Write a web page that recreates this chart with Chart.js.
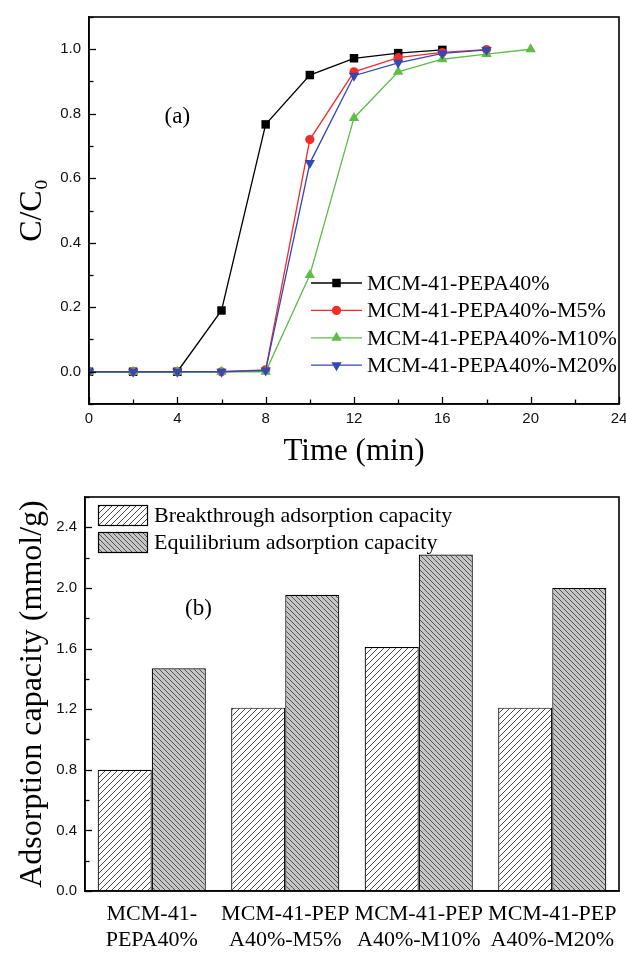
<!DOCTYPE html>
<html><head><meta charset="utf-8">
<script src="https://cdn.jsdelivr.net/npm/chart.js@4.4.1/dist/chart.umd.min.js"></script>
<style>
html,body{margin:0;padding:0;background:#fff;}
#wrap{position:relative;width:626px;height:953px;overflow:hidden;background:#fff;}
#c1{position:absolute;left:0;top:0;}
#c2{position:absolute;left:0;top:480px;}
</style></head><body>
<div id="wrap">
<canvas id="c1" width="626" height="480"></canvas>
<canvas id="c2" width="626" height="473"></canvas>
</div>
<script>
// ---------- data: panel (a) ----------
const times = [0, 2, 4, 6, 8, 10, 12, 14, 16, 18, 20];
const seriesNames = ['MCM-41-PEPA40%', 'MCM-41-PEPA40%-M5%', 'MCM-41-PEPA40%-M10%', 'MCM-41-PEPA40%-M20%'];
const cPEPA40 = [0, 0, 0, 0.19, 0.767, 0.92, 0.972, 0.988, 0.998];
const cM5     = [0, 0, 0, 0, 0.006, 0.72, 0.93, 0.974, 0.99, 0.999];
const cM10    = [0, 0, 0, 0, 0, 0.30, 0.787, 0.93, 0.969, 0.985, 1.0];
const cM20    = [0, 0, 0, 0, 0.004, 0.647, 0.918, 0.958, 0.987, 0.998];
const xTickStep = 2;
const xLabelEvery = 4;

// ---------- data: panel (b) ----------
const categories = [['MCM-41-', 'PEPA40%'], ['MCM-41-PEP', 'A40%-M5%'], ['MCM-41-PEP', 'A40%-M10%'], ['MCM-41-PEP', 'A40%-M20%']];
const barNames = ['Breakthrough adsorption capacity', 'Equilibrium adsorption capacity'];
const breakthrough = [0.80, 1.21, 1.61, 1.21];
const equilibrium  = [1.47, 1.955, 2.22, 2.00];

// ---------- styles ----------
const SERIF = '"Liberation Serif","Times New Roman",serif';
const SANS = '"Liberation Sans",Arial,sans-serif';
Chart.defaults.font.family = SANS;
Chart.defaults.color = '#000';
const lineColors = ['#000000', '#f22b2b', '#5dbd47', '#3448b4'];
const pointStyles = ['rect', 'circle', 'triangle', 'triangle'];
const pointRot = [0, 0, 0, 180];
const pointRad = [6, 4.6, 6, 6];

function hatchTile(bg, fg, dir, size, lw) {
  const c = document.createElement('canvas');
  c.width = size; c.height = size;
  const g = c.getContext('2d');
  g.fillStyle = bg; g.fillRect(0, 0, size, size);
  g.strokeStyle = fg; g.lineWidth = lw; g.beginPath();
  if (dir === '/') {
    g.moveTo(0, size); g.lineTo(size, 0);
    g.moveTo(-1, 1); g.lineTo(1, -1);
    g.moveTo(size - 1, size + 1); g.lineTo(size + 1, size - 1);
  } else {
    g.moveTo(0, 0); g.lineTo(size, size);
    g.moveTo(-1, size - 1); g.lineTo(1, size + 1);
    g.moveTo(size - 1, -1); g.lineTo(size + 1, 1);
  }
  g.stroke();
  return c;
}

function drawMarker(ctx, style, rot, r, x, y, color) {
  ctx.save();
  ctx.fillStyle = color;
  ctx.beginPath();
  if (style === 'rect') {
    const s = r * Math.SQRT1_2;
    ctx.rect(x - s, y - s, 2 * s, 2 * s);
  } else if (style === 'circle') {
    ctx.arc(x, y, r, 0, Math.PI * 2);
  } else {
    const a0 = (rot === 180 ? Math.PI / 2 : -Math.PI / 2);
    for (let k = 0; k < 3; k++) {
      const a = a0 + k * 2 * Math.PI / 3;
      const px = x + r * Math.cos(a), py = y + r * Math.sin(a);
      if (k === 0) ctx.moveTo(px, py); else ctx.lineTo(px, py);
    }
    ctx.closePath();
  }
  ctx.fill();
  ctx.restore();
}

// inward ticks + frame
const frameTicks = {
  id: 'frameTicks',
  afterDraw(chart, args, opts) {
    const ctx = chart.ctx, ca = chart.chartArea;
    ctx.save();
    ctx.strokeStyle = '#000';
    ctx.lineWidth = 1.3;
    (opts.axes || []).forEach(id => {
      const s = chart.scales[id];
      s.ticks.forEach((t, i) => {
        const major = t.label !== '' && t.label !== undefined;
        const len = major ? 7 : 4.5;
        const p = Math.round(s.getPixelForTick(i)) + 0.5;
        ctx.beginPath();
        if (s.isHorizontal()) { ctx.moveTo(p, ca.bottom); ctx.lineTo(p, ca.bottom - len); }
        else { ctx.moveTo(ca.left, p); ctx.lineTo(ca.left + len, p); }
        ctx.stroke();
      });
    });
    ctx.lineWidth = 1.6;
    ctx.strokeRect(ca.left, ca.top, ca.right - ca.left, ca.bottom - ca.top);
    ctx.restore();
  }
};

// text annotation inside plot
const annot = {
  id: 'annot',
  afterDraw(chart, args, opts) {
    const ctx = chart.ctx;
    ctx.save();
    ctx.font = '23px ' + SERIF;
    ctx.fillStyle = '#000';
    ctx.textAlign = 'center';
    ctx.textBaseline = 'middle';
    const x = chart.scales.x.getPixelForValue(opts.x);
    const y = chart.scales.y.getPixelForValue(opts.y);
    ctx.fillText(opts.text, x, y);
    ctx.restore();
  }
};

// legend for panel (a)
const legendA = {
  id: 'legendA',
  afterDraw(chart) {
    const ctx = chart.ctx, ca = chart.chartArea;
    ctx.save();
    ctx.font = '22px ' + SERIF;
    ctx.textBaseline = 'middle';
    ctx.textAlign = 'left';
    chart.data.datasets.forEach((ds, i) => {
      const y = ca.top + 266 + i * 27.4;
      const x0 = ca.left + 222, x1 = ca.left + 273, xm = (x0 + x1) / 2;
      ctx.strokeStyle = lineColors[i];
      ctx.lineWidth = 1.3;
      ctx.beginPath(); ctx.moveTo(x0, y); ctx.lineTo(x1, y); ctx.stroke();
      drawMarker(ctx, pointStyles[i], pointRot[i], pointRad[i], xm, y, lineColors[i]);
      ctx.fillStyle = '#000';
      ctx.fillText(ds.label, ca.left + 278, y + 1);
    });
    ctx.restore();
  }
};

// legend for panel (b)
const legendB = {
  id: 'legendB',
  afterDraw(chart) {
    const ctx = chart.ctx, ca = chart.chartArea;
    ctx.save();
    ctx.font = '22px ' + SERIF;
    ctx.textBaseline = 'middle';
    ctx.textAlign = 'left';
    chart.data.datasets.forEach((ds, i) => {
      const bx = ca.left + 13, by = ca.top + 8 + i * 27, bw = 49, bh = 20;
      ctx.fillStyle = ds.backgroundColor;
      ctx.fillRect(bx, by, bw, bh);
      ctx.strokeStyle = '#000'; ctx.lineWidth = 1.2;
      ctx.strokeRect(bx + 0.5, by + 0.5, bw, bh);
      ctx.fillStyle = '#000';
      ctx.fillText(ds.label, bx + 56, by + bh / 2 + 1);
    });
    ctx.restore();
  }
};

// ---------- chart (a) ----------
const seriesValues = [cPEPA40, cM5, cM10, cM20];
const ctx1 = document.getElementById('c1').getContext('2d');
new Chart(ctx1, {
  type: 'line',
  data: {
    datasets: seriesValues.map((vals, i) => ({
      label: seriesNames[i],
      data: vals.map((v, j) => ({ x: times[j], y: v })),
      borderColor: lineColors[i],
      backgroundColor: lineColors[i],
      borderWidth: 1.3,
      pointStyle: pointStyles[i],
      rotation: pointRot[i],
      pointRadius: pointRad[i],
      pointBorderWidth: 0,
      pointBackgroundColor: lineColors[i],
      tension: 0,
      fill: false,
      order: 3 - i
    }))
  },
  options: {
    responsive: false,
    animation: false,
    devicePixelRatio: 1,
    layout: { padding: { top: 11, right: 7, left: 0, bottom: 0 } },
    plugins: {
      legend: { display: false },
      tooltip: { enabled: false },
      frameTicks: { axes: ['x', 'y'] },
      annot: { text: '(a)', x: 4, y: 0.79 }
    },
    scales: {
      x: {
        type: 'linear', min: 0, max: 24,
        grid: { display: true, drawOnChartArea: false, drawTicks: false },
        border: { display: true, color: '#000', width: 1.5 },
        ticks: {
          stepSize: xTickStep, autoSkip: false, maxRotation: 0, padding: 6,
          font: { size: 15, family: SANS }, color: '#111',
          callback: v => (Math.round(v) % xLabelEvery === 0 ? String(Math.round(v)) : '')
        },
        title: { display: true, text: 'Time (min)', font: { family: SERIF, size: 31 }, color: '#000', padding: { top: 0, bottom: 10 } },
        afterFit: s => { s.height = 76; s.paddingLeft = 0; s.paddingRight = 0; }
      },
      y: {
        type: 'linear', min: -0.1, max: 1.1,
        grid: { display: true, drawOnChartArea: false, drawTicks: false },
        border: { display: true, color: '#000', width: 1.5 },
        ticks: {
          stepSize: 0.1, autoSkip: false, padding: 8,
          font: { size: 15, family: SANS }, color: '#111',
          callback: v => { const k = Math.round(v * 10); return (k % 2 === 0 && k >= 0 && k <= 10) ? (k / 10).toFixed(1) : ''; }
        },
        title: { display: true, text: 'C/C\u2080', font: { family: SERIF, size: 32 }, color: '#000', padding: { top: 13, bottom: 0 } },
        afterFit: s => { s.width = 89; }
      }
    }
  },
  plugins: [frameTicks, annot, legendA]
});

// ---------- chart (b) ----------
const ctx2 = document.getElementById('c2').getContext('2d');
const patBreak = ctx2.createPattern(hatchTile('#ffffff', '#333', '/', 6, 0.9), 'repeat');
const patEq = ctx2.createPattern(hatchTile('#c6c6c6', '#444', '\\', 5, 0.9), 'repeat');
new Chart(ctx2, {
  type: 'bar',
  data: {
    labels: categories,
    datasets: [
      { label: barNames[0], data: breakthrough, backgroundColor: patBreak, borderColor: '#000', borderWidth: 1.2, categoryPercentage: 0.81, barPercentage: 1.0 },
      { label: barNames[1], data: equilibrium, backgroundColor: patEq, borderColor: '#000', borderWidth: 1.2, categoryPercentage: 0.81, barPercentage: 1.0 }
    ]
  },
  options: {
    responsive: false,
    animation: false,
    devicePixelRatio: 1,
    layout: { padding: { top: 13, right: 7, left: 0, bottom: 0 } },
    plugins: {
      legend: { display: false },
      tooltip: { enabled: false },
      frameTicks: { axes: ['y'] },
      annot: { text: '(b)', x: 0.35, y: 1.86 }
    },
    scales: {
      x: {
        type: 'category',
        grid: { display: true, drawOnChartArea: false, drawTicks: false },
        border: { display: true, color: '#000', width: 1.5 },
        ticks: {
          autoSkip: false, maxRotation: 0, minRotation: 0, padding: 11,
          font: { family: SERIF, size: 22, lineHeight: 1.15 }, color: '#000'
        },
        afterFit: s => { s.height = 62; s.paddingLeft = 0; s.paddingRight = 0; }
      },
      y: {
        type: 'linear', min: 0, max: 2.6,
        grid: { display: true, drawOnChartArea: false, drawTicks: false },
        border: { display: true, color: '#000', width: 1.5 },
        ticks: {
          stepSize: 0.2, autoSkip: false, padding: 8,
          font: { size: 15, family: SANS }, color: '#111',
          callback: v => { const k = Math.round(v * 10); return (k % 4 === 0) ? (k / 10).toFixed(1) : ''; }
        },
        title: { display: true, text: 'Adsorption capacity (mmol/g)', font: { family: SERIF, size: 32 }, color: '#000', padding: { top: 13, bottom: 0 } },
        afterFit: s => { s.width = 85; }
      }
    }
  },
  plugins: [frameTicks, annot, legendB]
});
</script>
</body></html>
